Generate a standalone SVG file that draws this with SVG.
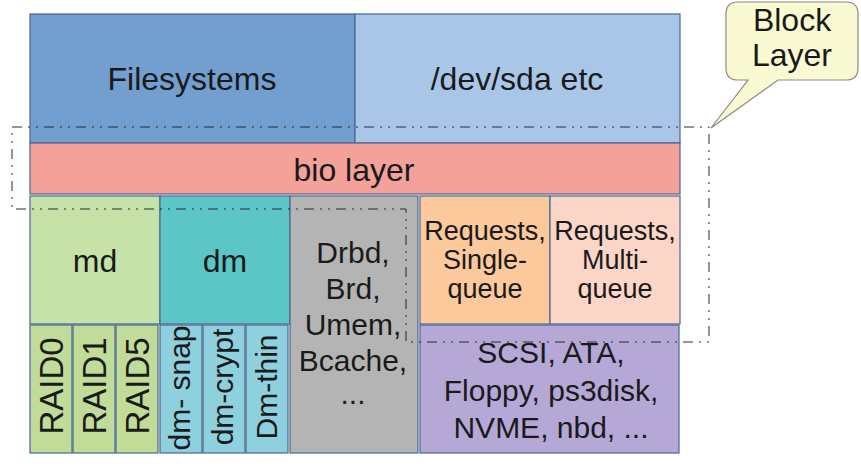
<svg xmlns="http://www.w3.org/2000/svg" width="861" height="471" viewBox="0 0 861 471">
  <style>
    .box { stroke: #4a6690; stroke-width: 1.2; }
    text { font-family: "Liberation Sans", Arial, sans-serif; fill: #1a1a1a; text-anchor: middle; }
    .big { font-size: 32px; }
    .mid { font-size: 30px; }
    .req { font-size: 27px; }
    .vert { font-size: 33px; }
    .vdm { font-size: 30px; }
  </style>
  <rect width="861" height="471" fill="#ffffff"/>

  <g id="filesystems">
    <rect class="box" x="30" y="14" width="325" height="129" fill="#729fcf"/>
    <text class="big" x="192" y="90">Filesystems</text>
  </g>
  <g id="dev-sda">
    <rect class="box" x="355" y="14" width="325" height="129" fill="#a9c6e8"/>
    <text class="big" x="517" y="90">/dev/sda etc</text>
  </g>
  <g id="bio-layer">
    <rect class="box" x="30" y="143" width="650" height="51" fill="#f4a19a"/>
    <text class="big" x="354" y="181">bio layer</text>
  </g>
  <g id="md">
    <rect class="box" x="30" y="196" width="130" height="128" fill="#c6e2a8"/>
    <text class="big" x="95" y="272">md</text>
  </g>
  <g id="dm">
    <rect class="box" x="160" y="196" width="130" height="128" fill="#5cc5c5"/>
    <text class="big" x="225" y="272">dm</text>
  </g>
  <g id="drivers-misc">
    <rect class="box" x="290" y="196" width="128" height="257" fill="#b4b4b4"/>
    <text class="mid" x="353" y="263">Drbd,</text>
    <text class="mid" x="353" y="299">Brd,</text>
    <text class="mid" x="353" y="335">Umem,</text>
    <text class="mid" x="353" y="371">Bcache,</text>
    <text class="mid" x="353" y="404">...</text>
  </g>
  <g id="requests-single">
    <rect class="box" x="420" y="196" width="130" height="128" fill="#fbc99c"/>
    <text class="req" x="485" y="240">Requests,</text>
    <text class="req" x="485" y="269">Single-</text>
    <text class="req" x="485" y="298">queue</text>
  </g>
  <g id="requests-multi">
    <rect class="box" x="550" y="196" width="130" height="128" fill="#fbd6c8"/>
    <text class="req" x="615" y="240">Requests,</text>
    <text class="req" x="615" y="269">Multi-</text>
    <text class="req" x="615" y="298">queue</text>
  </g>
  <g id="low-level">
    <rect class="box" x="420" y="325" width="259" height="128" fill="#b5a8d6"/>
    <text class="mid" x="551" y="363">SCSI, ATA,</text>
    <text class="mid" x="551" y="401">Floppy, ps3disk,</text>
    <text class="mid" x="551" y="438">NVME, nbd, ...</text>
  </g>

  <g id="raid0">
    <rect class="box" x="30" y="325" width="42" height="128" fill="#c1dc98"/>
    <text class="vert" transform="translate(63,386) rotate(-90)">RAID0</text>
  </g>
  <g id="raid1">
    <rect class="box" x="73" y="325" width="42" height="128" fill="#c1dc98"/>
    <text class="vert" transform="translate(106,386) rotate(-90)">RAID1</text>
  </g>
  <g id="raid5">
    <rect class="box" x="116" y="325" width="42" height="128" fill="#c1dc98"/>
    <text class="vert" transform="translate(149,386) rotate(-90)">RAID5</text>
  </g>
  <g id="dm-snap">
    <rect class="box" x="160" y="325" width="42" height="128" fill="#8fd0df"/>
    <text class="vdm" transform="translate(190,388) rotate(-90)">dm- snap</text>
  </g>
  <g id="dm-crypt">
    <rect class="box" x="203" y="325" width="42" height="128" fill="#8fd0df"/>
    <text class="vdm" transform="translate(233,387) rotate(-90)">dm-crypt</text>
  </g>
  <g id="dm-thin">
    <rect class="box" x="246" y="325" width="42" height="128" fill="#8fd0df"/>
    <text class="vdm" transform="translate(277,387) rotate(-90)">Dm-thin</text>
  </g>

  <g id="connectors">
    <!-- dash-dot outline of the block layer region -->
    <polygon points="12,127 709,127 709,342 406,342 406,209 12,209" fill="none" stroke="#2a2a2a" stroke-width="1" stroke-dasharray="10,6,2,6,2,6"/>
  </g>

  <g id="callout">
    <path d="M738,2 H846 Q858,2 858,14 V68 Q858,80 846,80 H778 L711,128 L748,80 H738 Q726,80 726,68 V14 Q726,2 738,2 Z" fill="#fafad2" stroke="#8a8a8a" stroke-width="1.2"/>
    <text class="big" x="792" y="31">Block</text>
    <text class="big" x="792" y="66">Layer</text>
  </g>
</svg>
